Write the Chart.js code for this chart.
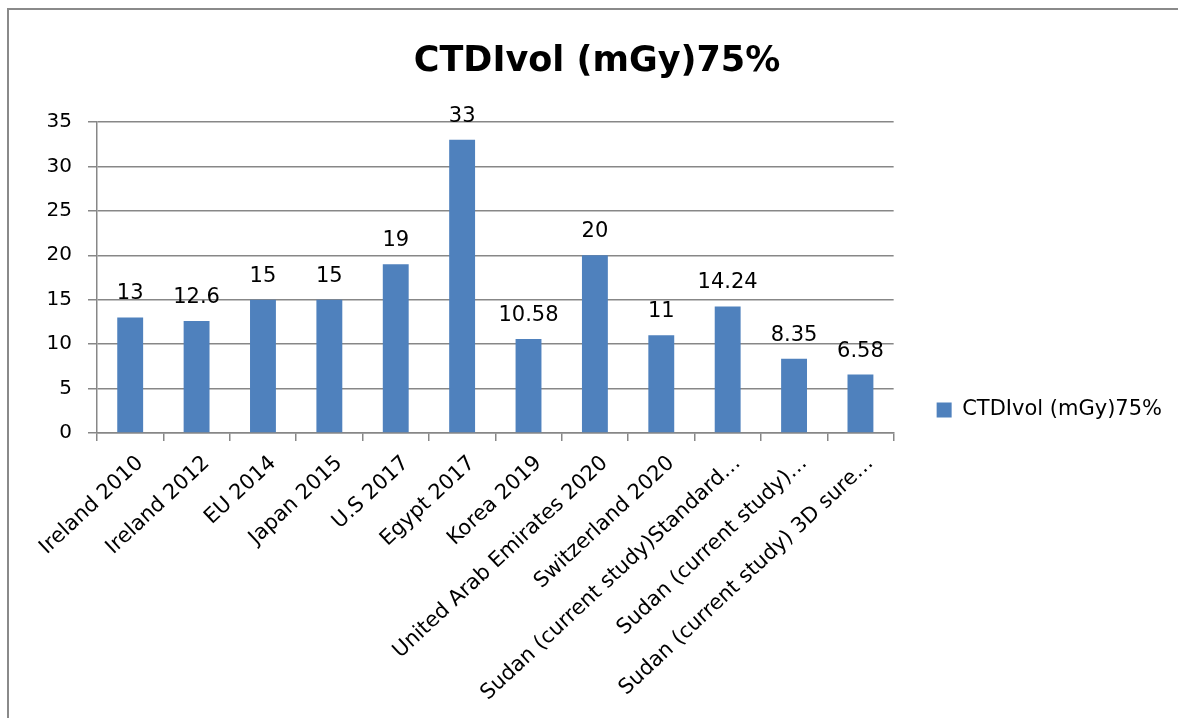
<!DOCTYPE html>
<html>
<head>
<meta charset="utf-8">
<script src="https://cdn.jsdelivr.net/npm/chart.js@4/dist/chart.umd.min.js"></script>
<style>
  html, body { margin: 0; padding: 0; background: #fff; }
  body { width: 1178px; height: 718px; overflow: hidden; position: relative; }
  #frame {
    position: absolute; left: 7px; top: 8px; width: 1180px; height: 720px;
    border-top: 2px solid #8a8a8a; border-left: 2px solid #8a8a8a; box-sizing: border-box;
  }
  #c { position: absolute; left: 0; top: 0; }
</style>
</head>
<body>
<div id="frame"></div>
<canvas id="c" width="1178" height="718"></canvas>
<script>
// Categories (as shown on the axis, long names shortened)
const categories = [
  'Ireland 2010',
  'Ireland 2012',
  'EU 2014',
  'Japan 2015',
  'U.S 2017',
  'Egypt 2017',
  'Korea 2019',
  'United Arab Emirates 2020',
  'Switzerland 2020',
  'Sudan (current study)Standard\u2026',
  'Sudan (current study)\u2026',
  'Sudan (current study) 3D sure\u2026'
];

// CTDIvol 75th percentile values, mGy
const ctdiValues = [13, 12.6, 15, 15, 19, 33, 10.58, 20, 11, 14.24, 8.35, 6.58];

const seriesName = 'CTDIvol (mGy)75%';
const chartTitle = 'CTDIvol (mGy)75%';

// Value axis range
const yMin = 0;
const yMax = 35;
const yStep = 5;

const FONT = '"DejaVu Sans", sans-serif';
const GRID = '#878787';

// Writes each bar's value above it
const valueLabels = {
  id: 'valueLabels',
  afterDatasetsDraw(chart) {
    const ctx = chart.ctx;
    const meta = chart.getDatasetMeta(0);
    const data = chart.data.datasets[0].data;
    ctx.save();
    ctx.font = '21px ' + FONT;
    ctx.fillStyle = '#000';
    ctx.textAlign = 'center';
    ctx.textBaseline = 'alphabetic';
    meta.data.forEach((bar, i) => {
      ctx.fillText(String(data[i]), bar.x, bar.y - 18);
    });
    ctx.restore();
  }
};

new Chart(document.getElementById('c'), {
  type: 'bar',
  data: {
    labels: categories,
    datasets: [{
      label: seriesName,
      data: ctdiValues,
      backgroundColor: '#4F81BD',
      borderWidth: 0,
      barPercentage: 0.39,
      categoryPercentage: 1.0
    }]
  },
  options: {
    responsive: false,
    animation: false,
    devicePixelRatio: 1,
    layout: { padding: { left: 22, right: 6, top: 0, bottom: 0 } },
    plugins: {
      title: {
        display: true,
        text: chartTitle,
        color: '#000',
        font: { family: FONT, size: 35, weight: 'bold' },
        padding: { top: 41, bottom: 39 }
      },
      legend: {
        display: true,
        position: 'right',
        align: 'center',
        title: { display: true, text: '', font: { size: 1 }, padding: { top: 50.4, bottom: 50.4 } },
        labels: {
          color: '#000',
          font: { family: FONT, size: 21 },
          boxWidth: 15,
          boxHeight: 15,
          padding: 43
        }
      },
      tooltip: { enabled: false }
    },
    scales: {
      x: {
        offset: true,
        afterFit(scale) { scale.height = 285; },
        grid: {
          offset: true,
          drawOnChartArea: false,
          drawTicks: true,
          tickLength: 8,
          color: GRID,
          lineWidth: 1.5
        },
        border: { display: true, color: GRID, width: 1.5 },
        ticks: {
          autoSkip: false,
          minRotation: 43,
          maxRotation: 43,
          padding: 10,
          labelOffset: 10,
          color: '#000',
          font: { family: FONT, size: 21 }
        }
      },
      y: {
        min: yMin,
        max: yMax,
        afterFit(scale) { scale.width = 75; },
        grid: {
          color: GRID,
          lineWidth: 1.5,
          drawTicks: true,
          tickLength: 9
        },
        border: { display: true, color: GRID, width: 1.5 },
        ticks: {
          stepSize: yStep,
          padding: 16,
          color: '#000',
          font: { family: FONT, size: 20 }
        }
      }
    }
  },
  plugins: [valueLabels]
});
</script>
</body>
</html>
